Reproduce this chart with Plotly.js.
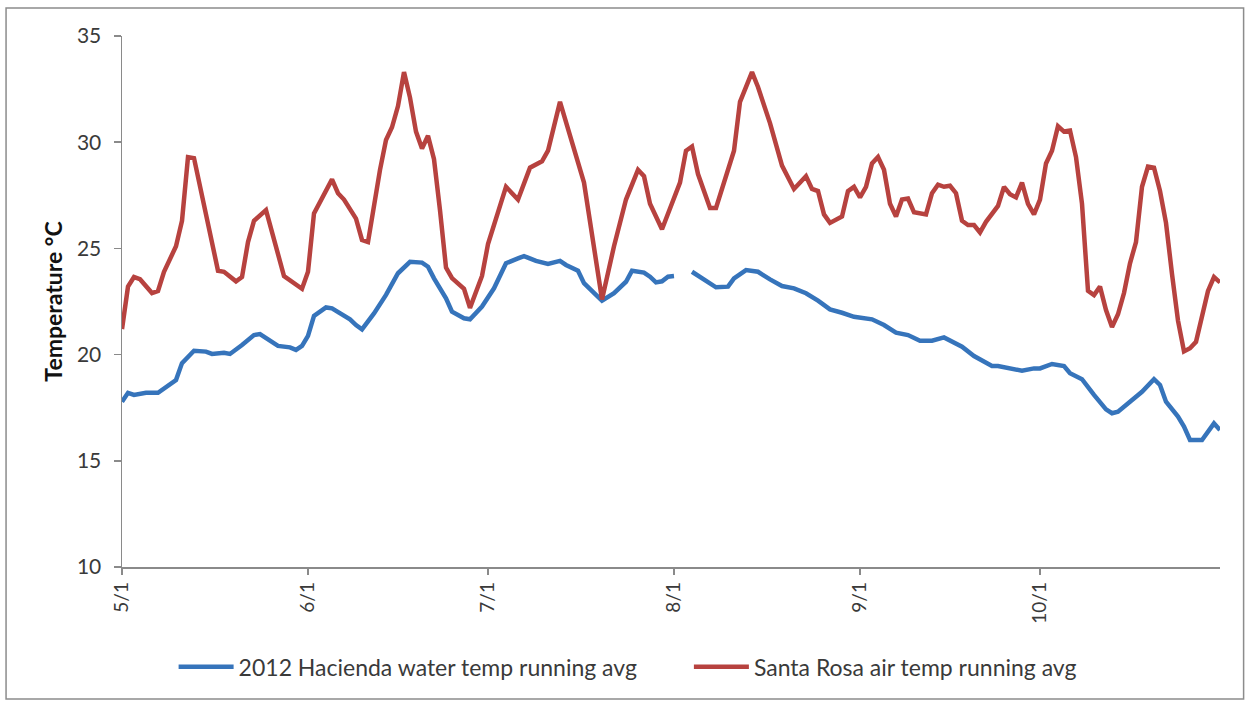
<!DOCTYPE html>
<html>
<head>
<meta charset="utf-8">
<script src="https://cdn.plot.ly/plotly-3.0.1.min.js"></script>
<style>
html,body{margin:0;padding:0;background:#fff;}
#chart{width:1247px;height:704px;}
</style>
</head>
<body>
<div id="chart"></div>
<script>
// ---- Data (2012, month/day) ----
const waterName = "2012 Hacienda water temp running avg";
const airName = "Santa Rosa air temp running avg";

const airDates = ["5/1","5/2","5/3","5/4","5/6","5/7","5/8","5/10","5/11","5/12","5/13","5/16","5/17","5/18","5/20","5/21","5/22","5/23","5/25","5/28","5/31",
"6/1","6/2","6/5","6/6","6/7","6/9","6/10","6/11","6/13","6/14","6/15","6/16","6/17","6/18","6/19","6/20","6/21","6/22","6/23","6/24","6/25","6/27","6/28","6/30",
"7/1","7/2","7/4","7/6","7/8","7/10","7/11","7/13","7/15","7/17","7/20","7/22","7/24","7/26","7/27","7/28","7/30","7/31",
"8/2","8/3","8/4","8/5","8/6","8/7","8/8","8/10","8/11","8/12","8/14","8/15","8/17","8/19","8/20","8/21","8/23","8/24","8/25","8/26","8/27","8/29","8/30","8/31",
"9/1","9/2","9/3","9/4","9/5","9/6","9/7","9/8","9/9","9/10","9/12","9/13","9/14","9/15","9/16","9/17","9/18","9/19","9/20","9/21","9/22","9/24","9/25","9/26","9/27","9/28","9/29","9/30",
"10/1","10/2","10/3","10/4","10/5","10/6","10/7","10/8","10/9","10/10","10/11","10/12","10/13","10/14","10/15","10/16","10/17","10/18","10/19","10/20","10/21","10/22","10/23","10/24","10/25","10/26","10/27","10/28","10/29","10/30","10/31"];
const airTemp = [21.2,23.2,23.65,23.55,22.9,23.0,23.9,25.1,26.3,29.3,29.25,25.4,23.95,23.9,23.45,23.65,25.3,26.3,26.8,23.7,23.1,
23.9,26.65,28.25,27.6,27.3,26.4,25.4,25.3,28.7,30.1,30.7,31.7,33.3,32.1,30.5,29.7,30.3,29.2,26.8,24.1,23.6,23.1,22.2,23.7,
25.2,26.1,27.9,27.3,28.8,29.1,29.6,31.9,30.0,28.1,22.6,25.1,27.3,28.7,28.4,27.1,25.9,26.65,
28.1,29.6,29.8,28.5,27.7,26.9,26.9,28.7,29.6,31.9,33.3,32.6,30.9,28.9,28.4,27.8,28.4,27.8,27.7,26.6,26.2,26.5,27.7,27.9,
27.4,27.9,29.0,29.3,28.7,27.1,26.5,27.3,27.35,26.7,26.6,27.6,28.0,27.9,27.95,27.6,26.3,26.1,26.1,25.75,26.25,27.0,27.9,27.55,27.4,28.1,27.1,26.6,
27.3,29.0,29.6,30.75,30.5,30.55,29.3,27.1,23.0,22.8,23.2,22.1,21.3,21.9,22.9,24.3,25.3,27.9,28.85,28.8,27.7,26.2,23.8,21.6,20.15,20.3,20.6,21.9,23.0,23.65,23.4];

const waterDates = ["5/1","5/2","5/3","5/5","5/7","5/8","5/10","5/11","5/13","5/15","5/16","5/18","5/19","5/21","5/23","5/24","5/26","5/27","5/29","5/30","5/31",
"6/1","6/2","6/4","6/5","6/7","6/8","6/9","6/10","6/12","6/14","6/16","6/18","6/20","6/21","6/22","6/24","6/25","6/27","6/28","6/30",
"7/2","7/4","7/6","7/7","7/9","7/11","7/13","7/14","7/16","7/17","7/19","7/20","7/22","7/24","7/25","7/27","7/28","7/29","7/30","7/31",
"8/1","8/2","8/3","8/4","8/6","8/8","8/10","8/11","8/13","8/15","8/17","8/19","8/21","8/23","8/25","8/27","8/29","8/31",
"9/3","9/5","9/7","9/9","9/11","9/13","9/15","9/17","9/18","9/20","9/23","9/24","9/26","9/28","9/30",
"10/1","10/3","10/5","10/6","10/8","10/10","10/12","10/13","10/14","10/16","10/18","10/20","10/21","10/22","10/24","10/25","10/26","10/28","10/30","10/31"];
const waterTemp = [17.78,18.2,18.1,18.2,18.2,18.4,18.8,19.6,20.18,20.14,20.03,20.09,20.03,20.45,20.92,20.97,20.61,20.41,20.34,20.22,20.41,
20.88,21.82,22.22,22.18,21.86,21.66,21.39,21.19,21.94,22.81,23.83,24.37,24.33,24.14,23.59,22.65,22.02,21.71,21.66,22.26,
23.12,24.3,24.53,24.64,24.41,24.27,24.41,24.22,23.95,23.36,22.81,22.54,22.89,23.43,23.95,23.86,23.67,23.4,23.45,23.67,
23.7,null,null,23.9,23.54,23.17,23.2,23.59,23.98,23.9,23.54,23.23,23.12,22.89,22.54,22.13,21.97,21.78,
21.66,21.39,21.03,20.92,20.65,20.65,20.81,20.5,20.37,19.93,19.46,19.46,19.35,19.24,19.35,
19.35,19.56,19.46,19.12,18.84,18.1,17.42,17.24,17.31,17.78,18.25,18.84,18.57,17.78,17.08,16.61,15.98,15.98,16.76,16.45];

const tickDates = ["5/1","6/1","7/1","8/1","9/1","10/1"];
const yTicks = [10,15,20,25,30,35];

function iso(md){
  const p = md.split("/");
  return "2012-" + String(p[0]).padStart(2,"0") + "-" + String(p[1]).padStart(2,"0");
}

const FONT = "Lato, 'Open Sans', sans-serif";
const TXT = "#3a3a3a";

const traces = [
  {x: waterDates.map(iso), y: waterTemp, name: waterName, type: "scatter", mode: "lines",
   line: {color: "#3674bb", width: 4.5}, connectgaps: false, legend: "legend"},
  {x: airDates.map(iso), y: airTemp, name: airName, type: "scatter", mode: "lines",
   line: {color: "#b7423f", width: 4.5}, legend: "legend2"}
];

const legendBase = {orientation: "h", yanchor: "middle", y: -0.188, xanchor: "left",
  font: {family: FONT, size: 23, color: TXT}, itemwidth: 55, bgcolor: "rgba(0,0,0,0)"};

const layout = {
  width: 1247, height: 704,
  margin: {l: 122, r: 27, t: 36, b: 137},
  paper_bgcolor: "#ffffff", plot_bgcolor: "#ffffff",
  font: {family: FONT, color: TXT},
  showlegend: true,
  legend: Object.assign({}, legendBase, {x: 0.047}),
  legend2: Object.assign({}, legendBase, {x: 0.5163}),
  xaxis: {
    type: "date", range: [iso("5/1"), iso("10/31")],
    tickmode: "array", tickvals: tickDates.map(iso), ticktext: tickDates,
    tickangle: -90, tickfont: {family: FONT, size: 19, color: TXT},
    showgrid: false, zeroline: false,
    showline: true, linecolor: "#8a8a8a", linewidth: 1.5,
    ticks: "outside", ticklen: 6, tickcolor: "#8a8a8a", tickwidth: 1.5
  },
  yaxis: {
    range: [10, 35], tickmode: "array", tickvals: yTicks, ticktext: yTicks.map(String),
    tickfont: {family: FONT, size: 21, color: TXT}, ticklabelstandoff: 8,
    title: {text: "Temperature °C", font: {family: FONT, size: 23, color: "#111", weight: "bold"}, standoff: 8},
    showgrid: false, zeroline: false,
    showline: true, linecolor: "#8a8a8a", linewidth: 1.5,
    ticks: "outside", ticklen: 7, tickcolor: "#8a8a8a", tickwidth: 1.5
  },
  shapes: [{type: "rect", xref: "paper", yref: "paper",
            x0: -0.1056, x1: 1.0215, y0: -0.2486, y1: 1.0527,
            line: {color: "#8c8c8c", width: 1.5}, fillcolor: "rgba(0,0,0,0)", layer: "below"}]
};

Plotly.newPlot("chart", traces, layout, {displayModeBar: false, staticPlot: true});
</script>
</body>
</html>
